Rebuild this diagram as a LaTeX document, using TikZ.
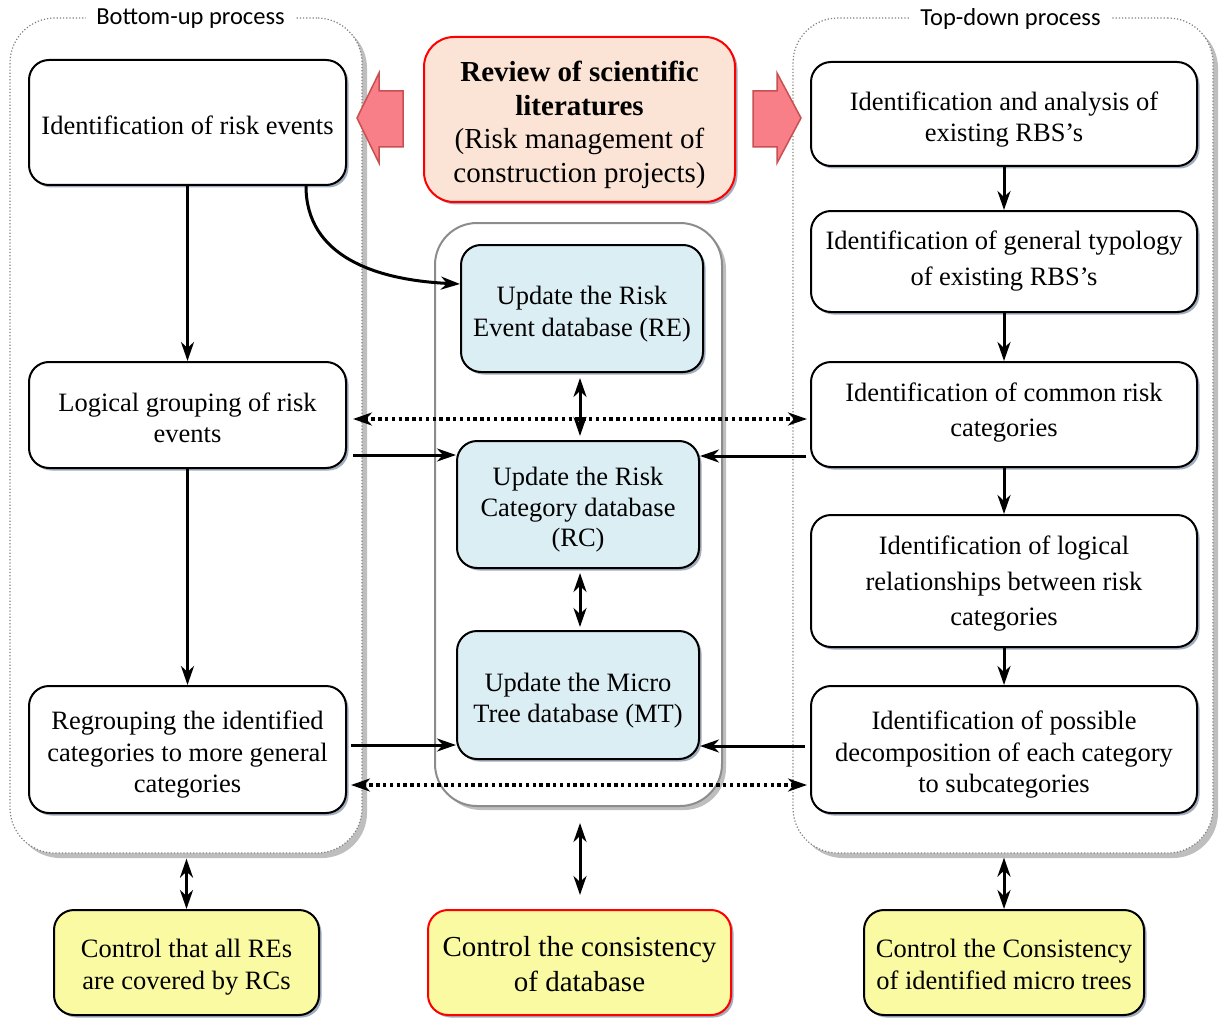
\documentclass[tikz,border=0pt]{standalone}
\usepackage{fontspec}
\setmainfont{Liberation Serif}
\newfontfamily\calib{Carlito}
\usetikzlibrary{arrows.meta,shadows,calc}
\definecolor{peach}{RGB}{251,228,213}
\definecolor{lblue}{RGB}{219,238,244}
\definecolor{yel}{RGB}{250,250,162}
\definecolor{pinkf}{RGB}{248,126,135}
\definecolor{pinkd}{RGB}{200,80,80}
\definecolor{shd}{RGB}{130,145,170}
\definecolor{grpshd}{RGB}{190,190,190}
\definecolor{midline}{RGB}{140,140,140}
\newcommand\boxtxt[2][5.5pt]{\raisebox{-#1}[\height][\depth]{\begin{tabular}{@{}c@{}}#2\end{tabular}}}
\tikzset{
  tip/.tip={Stealth[length=19pt,width=13pt,inset=6pt]},
  box/.style={draw, line width=2, rounded corners=20, fill=white, inner sep=0pt,
    font=\fontsize{26.5}{31.5}\selectfont,
    drop shadow={shadow xshift=2.5pt, shadow yshift=-2.5pt, fill=shd, opacity=0.75}},
  wide/.style={font=\fontsize{26.5}{35.5}\selectfont},
  dbbox/.style={box, fill=lblue},
  ctrl/.style={box, fill=yel},
  grp/.style={draw=gray, line width=1.2, dotted, rounded corners=45, fill=white, inner sep=0pt,
    drop shadow={shadow xshift=5pt, shadow yshift=-5pt, fill=grpshd, opacity=1}},
  midgrp/.style={draw=midline, line width=2, rounded corners=42, fill=white, inner sep=0pt,
    drop shadow={shadow xshift=4pt, shadow yshift=-4pt, fill=grpshd, opacity=1}},
  ttl/.style={fill=white, inner xsep=10pt, inner ysep=2pt, font=\calib\fontsize{24.5}{28}\selectfont},
  arr/.style={line width=3, -tip},
  dbl/.style={line width=3, tip-tip},
  dotarr/.style={line width=3.4, dash pattern=on 3.4pt off 3.4pt, tip-tip},
}
\begin{document}
\begin{tikzpicture}[x=1pt,y=-1pt]
\useasboundingbox (0,0) rectangle (1220,1019);

% groups
\node[grp, minimum width=352, minimum height=835] (GL) at (186,435.5) {};
\node[grp, minimum width=420, minimum height=835] (GR) at (1003,435.5) {};
\node[midgrp, minimum width=287, minimum height=583] (GM) at (578.5,514.5) {};
\node[ttl] (TL) at (190.5,19) {Bottom-up process};
\node[ttl] (TR) at (1010.5,19) {Top-down process};

% block arrows
\filldraw[fill=pinkf, draw=pinkd, line width=1.5] (357,118) -- (379,73) -- (379,91) -- (403,91) -- (403,147) -- (379,147) -- (379,163) -- cycle;
\filldraw[fill=pinkf, draw=pinkd, line width=1.5] (801,118) -- (777,73) -- (777,91) -- (753,91) -- (753,147) -- (777,147) -- (777,163) -- cycle;

% review box
\node[box, fill=peach, draw=red, line width=2, rounded corners=30,
  font=\fontsize{29}{33.5}\selectfont, minimum width=311, minimum height=165] (REV) at (579.5,119.5)
  {\boxtxt[6pt]{\textbf{Review of scientific}\\\textbf{literatures}\\(Risk management of\\construction projects)}};

% left column
\node[box, minimum width=317, minimum height=125] (L1) at (187.5,122.5) {\boxtxt{Identification of risk events}};
\node[box, minimum width=317, minimum height=106] (L2) at (187.5,415) {\boxtxt{Logical grouping of risk\\events}};
\node[box, minimum width=317, minimum height=127] (L3) at (187.5,749.5) {\boxtxt{Regrouping the identified\\categories to more general\\categories}};

% right column
\node[box, minimum width=386, minimum height=104] (R1) at (1004,114) {\boxtxt{Identification and analysis of\\existing RBS’s}};
\node[box, wide, minimum width=386, minimum height=101] (R2) at (1004,261.5) {\boxtxt[-1pt]{Identification of general typology\\of existing RBS’s}};
\node[box, wide, minimum width=386, minimum height=105] (R3) at (1004,414.5) {\boxtxt[-2.5pt]{Identification of common risk\\categories}};
\node[box, wide, minimum width=386, minimum height=132] (R4) at (1004,581) {\boxtxt[2pt]{Identification of logical\\relationships between risk\\categories}};
\node[box, minimum width=386, minimum height=127] (R5) at (1004,749.5) {\boxtxt{Identification of possible\\decomposition of each category\\to subcategories}};

% middle databases
\node[dbbox, minimum width=242, minimum height=127] (M1) at (582,308.5) {\boxtxt{Update the Risk\\Event database (RE)}};
\node[dbbox, font=\fontsize{26.5}{30.5}\selectfont, minimum width=242, minimum height=127] (M2) at (578,504.5) {\boxtxt{Update the Risk\\Category database\\(RC)}};
\node[dbbox, minimum width=242, minimum height=128] (M3) at (578,695) {\boxtxt{Update the Micro\\Tree database (MT)}};

% bottom controls
\node[ctrl, minimum width=265, minimum height=105] (B1) at (186.5,962.5) {\boxtxt[4.5pt]{Control that all REs\\are covered by RCs}};
\node[ctrl, draw=red, line width=2, font=\fontsize{29}{35}\selectfont, minimum width=303, minimum height=105] (B2) at (579.5,962.5) {\boxtxt[4.5pt]{Control the consistency\\of database}};
\node[ctrl, minimum width=280, minimum height=105] (B3) at (1004,962.5) {\boxtxt[4.5pt]{Control the Consistency\\of identified micro trees}};

% connectors: left column
\draw[arr] (L1) -- (L2);
\draw[arr] (L2) -- (L3);
\draw[arr] ($(L1.south east)+(-41,0)$) .. controls +(0,70) and +(-85,-4) .. (M1.west |- 0,284);
\draw[arr, shorten <=6pt] (L2.east |- 0,455) -- (M2.west |- 0,455);
\draw[arr, shorten <=4pt] (L3.east |- 0,745) -- (M3.west |- 0,745);

% right column
\draw[arr] (R1) -- (R2);
\draw[arr] (R2) -- (R3);
\draw[arr] (R3) -- (R4);
\draw[arr] (R4) -- (R5);
\draw[arr, shorten <=4pt] (R3.west |- 0,456) -- (M2.east |- 0,456);
\draw[arr, shorten <=5pt] (R5.west |- 0,746) -- (M3.east |- 0,746);

% dotted
\draw[dotarr, shorten <=6pt, shorten >=3pt] (L2.east |- 0,419) -- (R3.west |- 0,419);
\draw[dotarr, shorten <=4pt, shorten >=3pt] (L3.east |- 0,785) -- (R5.west |- 0,785);

% middle
\draw[dbl, shorten <=5pt, shorten >=4pt] (M1.south -| 580,0) -- (M2.north -| 580,0);
\draw[dbl, shorten <=4pt, shorten >=3pt] (M2.south -| 580,0) -- (M3.north -| 580,0);

% bottom
\draw[dbl, shorten <=5pt] (GL.south -| B1) -- (B1);
\draw[dbl, shorten <=16pt, shorten >=14pt] (GM.south -| 580,0) -- (B2.north -| 580,0);
\draw[dbl, shorten <=4pt] (GR.south -| B3) -- (B3);
\end{tikzpicture}
\end{document}
